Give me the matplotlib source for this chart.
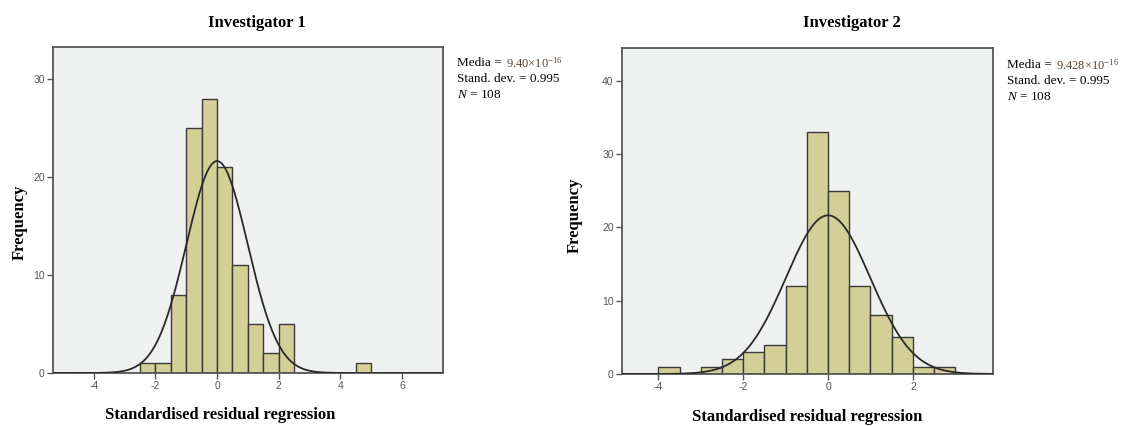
import numpy as np
import matplotlib
matplotlib.use('Agg')
import matplotlib.pyplot as plt

# bin edges (width 0.5) and counts
edges_1 = [-2.5, -2.0, -1.5, -1.0, -0.5, 0.0, 0.5, 1.0, 1.5, 2.0, 4.5]
counts_1 = [1, 1, 8, 25, 28, 21, 11, 5, 2, 5, 1]
edges_2 = [-4.0, -3.0, -2.5, -2.0, -1.5, -1.0, -0.5, 0.0, 0.5, 1.0, 1.5, 2.0, 2.5]
counts_2 = [1, 1, 2, 3, 4, 12, 33, 25, 12, 8, 5, 1, 1]
bin_w = 0.5

titles = ['Investigator 1', 'Investigator 2']
means = [9.40e-16, 9.428e-16]
mean_txt = [r'9.40$\times$10$^{-16}$', r'9.428$\times$10$^{-16}$']
sds = [0.995, 0.995]
ns = [108, 108]
xticks = [[-4, -2, 0, 2, 4, 6], [-4, -2, 0, 2]]
yticks = [[0, 10, 20, 30], [0, 10, 20, 30, 40]]
xlims = [(-5.32, 7.33), (-4.86, 3.89)]
ylims = [(0, 33.3), (0, 44.5)]

bar_col = '#d4cf97'
bg_col = '#eff0f0'
edge_col = '#3a3a3a'
serif = 'Liberation Serif'

plt.rcParams['axes.unicode_minus'] = False
plt.rcParams['mathtext.fontset'] = 'custom'
plt.rcParams['mathtext.rm'] = serif
plt.rcParams['mathtext.it'] = serif + ':italic'

fig = plt.figure(figsize=(11.26, 4.26), dpi=100)
axes = [fig.add_axes([0.0471, 0.1244, 0.3464, 0.7653]),
        fig.add_axes([0.5524, 0.1221, 0.3295, 0.7653])]

data = [(edges_1, counts_1), (edges_2, counts_2)]
for i, ax in enumerate(axes):
    e, c = data[i]
    ax.set_facecolor(bg_col)
    ax.bar(e, c, width=bin_w, align='edge', color=bar_col,
           edgecolor=edge_col, linewidth=1.0, zorder=2)
    # fitted normal curve
    xx = np.linspace(xlims[i][0], xlims[i][1], 400)
    yy = ns[i] * bin_w / (sds[i] * np.sqrt(2 * np.pi)) * \
        np.exp(-0.5 * ((xx - means[i]) / sds[i]) ** 2)
    ax.plot(xx, yy, color='#2a2a2a', lw=1.3, zorder=3)

    ax.set_xlim(*xlims[i])
    ax.set_ylim(*ylims[i])
    ax.set_xticks(xticks[i])
    ax.set_yticks(yticks[i])
    ax.tick_params(labelsize=7.5, colors='#555555', length=4, width=1.0,
                   pad=2)
    for lab in ax.get_xticklabels() + ax.get_yticklabels():
        lab.set_family('Liberation Sans')
    for s in ax.spines.values():
        s.set_color('#555555')
        s.set_linewidth(1.3)

# titles and axis labels
fig.text(257 / 1126, 1 - 23 / 426, titles[0], ha='center', va='center',
         family=serif, fontweight='bold', fontsize=12)
fig.text(852 / 1126, 1 - 23 / 426, titles[1], ha='center', va='center',
         family=serif, fontweight='bold', fontsize=12)
fig.text(20 / 1126, 1 - 222 / 426, 'Frequency', ha='center', va='center',
         rotation=90, family=serif, fontweight='bold', fontsize=12)
fig.text(575 / 1126, 1 - 215 / 426, 'Frequency', ha='center', va='center',
         rotation=90, family=serif, fontweight='bold', fontsize=12)
fig.text(220 / 1126, 1 - 415 / 426, 'Standardised residual regression',
         ha='center', va='center', family=serif, fontweight='bold',
         fontsize=12)
fig.text(807 / 1126, 1 - 417 / 426, 'Standardised residual regression',
         ha='center', va='center', family=serif, fontweight='bold',
         fontsize=12)

# stats boxes
stat_x = [457, 1007]
stat_y = [63, 65]
renderer = fig.canvas.get_renderer()
for i in range(2):
    y0 = stat_y[i]
    t = fig.text(stat_x[i] / 1126, 1 - y0 / 426, 'Media = ', ha='left',
                 va='center', family=serif, fontsize=9.5)
    w = t.get_window_extent(renderer).width
    fig.text((stat_x[i] + w + 1) / 1126, 1 - y0 / 426, mean_txt[i],
             ha='left', va='center', family=serif, fontsize=9,
             color='#5a4636')
    fig.text(stat_x[i] / 1126, 1 - (y0 + 16) / 426,
             'Stand. dev. = %.3f' % sds[i], ha='left', va='center',
             family=serif, fontsize=9.5)
    fig.text(stat_x[i] / 1126, 1 - (y0 + 32) / 426, r'$N$ = %d' % ns[i],
             ha='left', va='center', family=serif, fontsize=9.5)

fig.savefig('out.png', dpi=100, facecolor='white')
